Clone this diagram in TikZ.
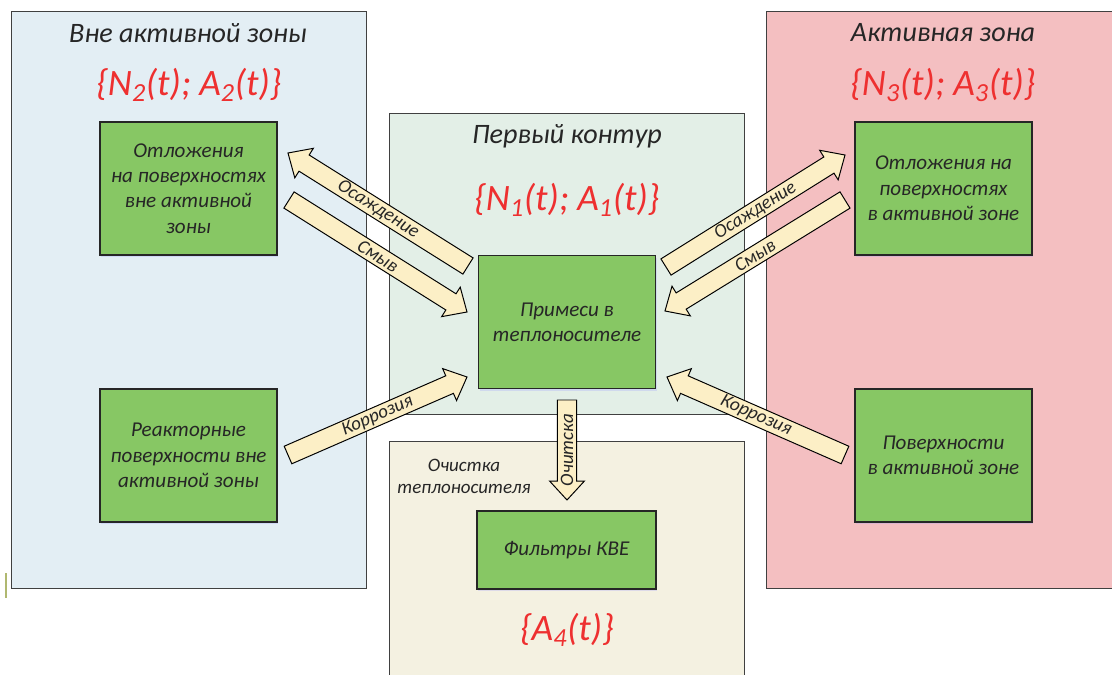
\documentclass[tikz,border=0pt]{standalone}
\usepackage{fontspec}
\setmainfont{Carlito}
\usetikzlibrary{calc,positioning,shadows}

\definecolor{outerblue}{HTML}{E3EEF4}
\definecolor{corepink}{HTML}{F4BFC1}
\definecolor{loopgreen}{HTML}{E3EFE7}
\definecolor{cleanbeige}{HTML}{F4F1E1}
\definecolor{boxgreen}{HTML}{87C764}
\definecolor{flowcream}{HTML}{FCEFC6}
\definecolor{valred}{HTML}{EE3030}
\definecolor{textdark}{HTML}{262626}
\definecolor{marker}{HTML}{B0B870}

\newcommand{\shafthalf}{6.8pt}
\newcommand{\headhalf}{12.4pt}
\newcommand{\headlen}{13.5pt}
\newcommand{\blockflow}[4][sloped]{%
  \coordinate (hb) at ($(#3)!\headlen!(#2)$);
  \draw[flowarrow] ($(#2)!\shafthalf!90:(#3)$) -- ($(hb)!\shafthalf!90:(#3)$)
    -- ($(hb)!\headhalf!90:(#3)$) -- (#3) -- ($(hb)!\headhalf!-90:(#3)$)
    -- ($(hb)!\shafthalf!-90:(#3)$) -- ($(#2)!\shafthalf!-90:(#3)$) -- cycle;
  \path (#2) -- (#3) node[midway,#1,flowlabel] {#4};}

\begin{document}
\begin{tikzpicture}
[x=0.025cm,y=-0.025cm,every node/.style={text=textdark},
zone/.style={draw=black!75,line width=0.7pt,drop shadow={shadow xshift=1pt,
	shadow yshift=-1pt,opacity=0.2}},
unit/.style={draw=black!85,line width=0.8pt,fill=boxgreen,minimum width=4.425cm,
	minimum height=3.325cm,align=center,font=\fontsize{15}{18}\selectfont\itshape,
	drop shadow={shadow xshift=1pt,shadow yshift=-1.5pt,fill=blue!40,opacity=0.25}},
heading/.style={font=\fontsize{20}{24}\selectfont\itshape},
amount/.style={text=valred,font=\fontsize{26.5}{30}\selectfont\itshape},
flowarrow/.style={draw=black,line width=0.7pt,fill=flowcream,line join=miter},
flowlabel/.style={font=\fontsize{13.5}{16}\selectfont\itshape,inner sep=0pt}]
\useasboundingbox (0,0) rectangle (1112,675);

\draw[zone,fill=outerblue] (11,11) rectangle (366,588);
\draw[zone,fill=corepink] (766,11) rectangle (1125,588);
\draw[zone,fill=loopgreen] (389,113) rectangle (744,414);
\draw[zone,fill=cleanbeige] (389,441) rectangle (744,690);
\draw[marker,line width=1.2pt] (6,573) -- (6,598);

\node[heading] (outer) at (188,33) {Вне активной зоны};
\node[amount] (outerval) at (189,85) {\{N\textsubscript{2}(t); A\textsubscript{2}(t)\}};
\node[heading] (core) at (943,33) {Активная зона};
\node[amount] (coreval) at (943,85) {\{N\textsubscript{3}(t); A\textsubscript{3}(t)\}};
\node[heading] (loop) at (567,136) {Первый контур};
\node[amount] (loopval) at (567,200) {\{N\textsubscript{1}(t); A\textsubscript{1}(t)\}};
\node[align=center,font=\fontsize{13.5}{15.6}\selectfont\itshape] (clean) at (464,476)
	{Очистка\\теплоносителя};
\node[amount] (cleanval) at (567,630) {\{A\textsubscript{4}(t)\}};

\node[unit] (depout) at (188.5,188.5) {Отложения\\на поверхностях\\вне активной\\зоны};
\node[unit] (surfout) at (188.5,455.5) {Реакторные\\поверхности вне\\активной зоны};
\node[unit] (mix) at (567,322) {Примеси в\\теплоносителе};
\node[unit] (depcore) at (943.5,188.5) {Отложения на\\поверхностях\\в активной зоне};
\node[unit] (surfcore) at (943.5,455.5) {Поверхности\\в активной зоне};
\node[unit,minimum width=4.475cm,minimum height=1.95cm] (filter) at (566.5,550)
	{Фильтры КВЕ};

\coordinate (depL-a) at (468,266); \coordinate (depL-b) at (288,153);
\coordinate (washL-a) at (289,200); \coordinate (washL-b) at (467,312);
\coordinate (depR-a) at (666,267); \coordinate (depR-b) at (845,155);
\coordinate (washR-a) at (845,200); \coordinate (washR-b) at (665,311);
\coordinate (corL-a) at (288,455); \coordinate (corL-b) at (467,377);
\coordinate (corR-a) at (845,455); \coordinate (corR-b) at (667,377);
\coordinate (clean-a) at (567,400); \coordinate (clean-b) at (567,500);

\blockflow{depL-a}{depL-b}{Осаждение}
\blockflow{washL-a}{washL-b}{Смыв}
\blockflow{depR-a}{depR-b}{Осаждение}
\blockflow{washR-a}{washR-b}{Смыв}
\blockflow{corL-a}{corL-b}{Коррозия}
\blockflow{corR-a}{corR-b}{Коррозия}
\blockflow[rotate=90]{clean-a}{clean-b}{Очитска}
\end{tikzpicture}
\end{document}
